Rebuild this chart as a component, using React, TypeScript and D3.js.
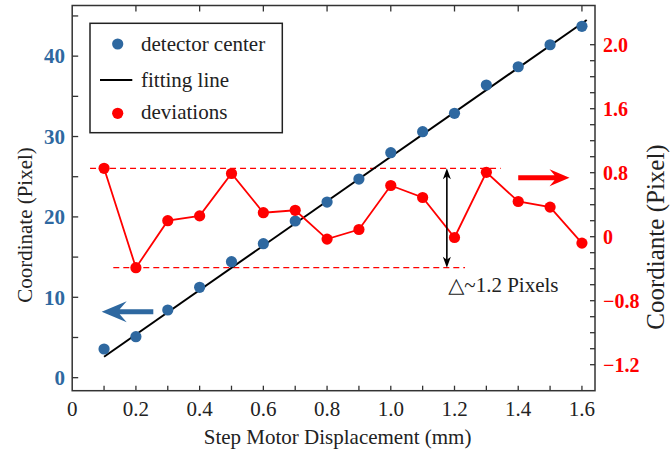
import React from "react";
import * as d3 from "d3";

// ---------- data ----------
const xValues = [0.1, 0.2, 0.3, 0.4, 0.5, 0.6, 0.7, 0.8, 0.9, 1.0, 1.1, 1.2, 1.3, 1.4, 1.5, 1.6];
const detectorCenter = [3.57, 5.1, 8.42, 11.24, 14.43, 16.67, 19.49, 21.85, 24.71, 27.99, 30.6, 32.89, 36.41, 38.68, 41.42, 43.71];
const deviations = [0.855, -0.3875, 0.2, 0.26, 0.79, 0.3, 0.33, -0.03, 0.09, 0.64, 0.49, -0.01, 0.805, 0.44, 0.37, -0.08];
const fitX = [0.1, 1.615];
const fitY = [2.61, 44.49];

const xTickValues = [0, 0.2, 0.4, 0.6, 0.8, 1.0, 1.2, 1.4, 1.6];
const xTickLabels = ["0", "0.2", "0.4", "0.6", "0.8", "1.0", "1.2", "1.4", "1.6"];
const leftTickValues = [0, 10, 20, 30, 40];
const rightTickValues = [2.4, 1.6, 0.8, 0, -0.8, -1.6];
const rightTickLabels = ["2.0", "1.6", "0.8", "0", "\u22120.8", "\u22121.2"];

const legendLabels = ["detector center", "fitting line", "deviations"];
const annotationText = "\u25B3~1.2 Pixels";

// ---------- style ----------
const W = 670;
const H = 453;
const BLUE = "#2e68a0";
const RED = "#ff0000";
const FRAME = "#333333";
const FONT = "Liberation Serif, DejaVu Serif, serif";

export default function App() {
  const x = d3.scaleLinear().domain([0, 1.641]).range([72.2, 595]);
  const yL = d3.scaleLinear().domain([-1.62, 46.3]).range([390.7, 5.5]);
  const yR = d3.scaleLinear().domain([-1.925, 2.89]).range([390.7, 5.5]);

  const [x0, x1] = x.range();
  const [yb, yt] = yL.range();

  const bottomTicks = d3.range(1, 17).map((i) => i / 10);
  const topTicks = d3.range(1, 9).map((i) => i / 5);
  const leftTicks = d3.range(0, 10).map((i) => i * 5);
  const rightTicks = d3.range(-8, 13).map((i) => i / 5);

  const devLine = d3
    .line<number>()
    .x((_, i) => x(xValues[i]))
    .y((d) => yR(d));

  const fitLine = d3
    .line<number>()
    .x((_, i) => x(fitX[i]))
    .y((d) => yL(d));

  const devMax = d3.max(deviations) as number;
  const devMin = d3.min(deviations) as number;

  const hArrow = (tipX: number, tailX: number, yy: number, headLen: number, halfH: number, notch: number, shaft: number) => {
    const dir = tailX > tipX ? 1 : -1;
    const p = d3.path();
    p.moveTo(tipX, yy);
    p.lineTo(tipX + dir * headLen, yy - halfH);
    p.lineTo(tipX + dir * notch, yy - shaft / 2);
    p.lineTo(tailX, yy - shaft / 2);
    p.lineTo(tailX, yy + shaft / 2);
    p.lineTo(tipX + dir * notch, yy + shaft / 2);
    p.lineTo(tipX + dir * headLen, yy + halfH);
    p.closePath();
    return p.toString();
  };

  const vHead = (xx: number, tipY: number, dir: number) => {
    const p = d3.path();
    p.moveTo(xx, tipY);
    p.lineTo(xx - 4, tipY + dir * 11);
    p.lineTo(xx, tipY + dir * 8);
    p.lineTo(xx + 4, tipY + dir * 11);
    p.closePath();
    return p.toString();
  };

  const arrowX = 1.176;
  const blueArrowY = yL(8.2);
  const redArrowY = yR(0.7375);

  const txt = { fontFamily: FONT };

  return (
    <svg
      width={W}
      height={H}
      style={{ position: "absolute", left: 0, top: 0, background: "#fff", fontFamily: FONT }}
    >
      <rect x={0} y={0} width={W} height={H} fill="#fff" />

      {/* dashed range lines */}
      <line x1={x(0.056)} x2={x(1.345)} y1={yR(devMax)} y2={yR(devMax)} stroke={RED} strokeWidth={1.2} strokeDasharray="6,4" />
      <line x1={x(0.129)} x2={x(1.233)} y1={yR(devMin)} y2={yR(devMin)} stroke={RED} strokeWidth={1.2} strokeDasharray="6,4" />

      {/* fit line */}
      <path d={fitLine(fitY) || ""} fill="none" stroke="#000" strokeWidth={2} />

      {/* blue points */}
      {detectorCenter.map((d, i) => (
        <circle key={"b" + i} cx={x(xValues[i])} cy={yL(d)} r={5.6} fill={BLUE} />
      ))}

      {/* deviations */}
      <path d={devLine(deviations) || ""} fill="none" stroke={RED} strokeWidth={1.8} />
      {deviations.map((d, i) => (
        <circle key={"r" + i} cx={x(xValues[i])} cy={yR(d)} r={5.6} fill={RED} />
      ))}

      {/* double arrow */}
      <line x1={x(arrowX)} x2={x(arrowX)} y1={yR(devMax) + 6} y2={yR(devMin) - 6} stroke="#000" strokeWidth={1.6} />
      <path d={vHead(x(arrowX), yR(devMax), 1)} fill="#000" />
      <path d={vHead(x(arrowX), yR(devMin), -1)} fill="#000" />
      <text x={x(1.18)} y={yR(-0.69)} fontSize={21} fill="#222" style={txt}>
        {annotationText}
      </text>

      {/* direction arrows */}
      <path d={hArrow(x(0.0926), x(0.2546), blueArrowY, 25, 10.5, 18, 5)} fill={BLUE} />
      <path d={hArrow(x(1.561), x(1.4), redArrowY, 20, 8.5, 15, 5)} fill={RED} />

      {/* frame */}
      <rect x={x0} y={yt} width={x1 - x0} height={yb - yt} fill="none" stroke={FRAME} strokeWidth={1.5} />

      {/* ticks */}
      {bottomTicks.map((t) => (
        <line key={"bt" + t} x1={x(t)} x2={x(t)} y1={yb} y2={yb - 5} stroke={FRAME} strokeWidth={1.3} />
      ))}
      {topTicks.map((t) => (
        <line key={"tt" + t} x1={x(t)} x2={x(t)} y1={yt} y2={yt + 6} stroke={FRAME} strokeWidth={1.3} />
      ))}
      {leftTicks.map((t) => (
        <line key={"lt" + t} x1={x0} x2={x0 + 6} y1={yL(t)} y2={yL(t)} stroke={FRAME} strokeWidth={1.3} />
      ))}
      {rightTicks.map((t) => (
        <line key={"rt" + t} x1={x1} x2={x1 - 5} y1={yR(t)} y2={yR(t)} stroke={FRAME} strokeWidth={1.3} />
      ))}

      {/* tick labels */}
      {xTickValues.map((t, i) => (
        <text key={"xl" + t} x={x(t)} y={416} textAnchor="middle" fontSize={21} fill="#222" style={txt}>
          {xTickLabels[i]}
        </text>
      ))}
      {leftTickValues.map((t) => (
        <text key={"ll" + t} x={65} y={yL(t)} dy="0.35em" textAnchor="end" fontSize={21} fontWeight="bold" fill={BLUE} style={txt}>
          {String(t)}
        </text>
      ))}
      {rightTickValues.map((t, i) => (
        <text key={"rl" + t} x={603} y={yR(t)} dy="0.35em" textAnchor="start" fontSize={20} fontWeight="bold" fill={RED} style={txt}>
          {rightTickLabels[i]}
        </text>
      ))}

      {/* axis titles */}
      <text x={(x0 + x1) / 2 + 4} y={444} textAnchor="middle" fontSize={21} fill="#222" style={txt}>
        Step Motor Displacement (mm)
      </text>
      <text transform={`translate(32,225) rotate(-90)`} textAnchor="middle" fontSize={21} fill="#222" style={txt}>
        Coordinate (Pixel)
      </text>
      <text transform={`translate(664,237) rotate(-90)`} textAnchor="middle" fontSize={25} fill="#222" style={txt}>
        Coordiante (Pixel)
      </text>

      {/* legend */}
      <rect x={90} y={23.3} width={192.3} height={109.4} fill="#fff" stroke="#222" strokeWidth={1.5} />
      <circle cx={117.7} cy={44} r={5.6} fill={BLUE} />
      <line x1={100} x2={132.3} y1={80} y2={80} stroke="#000" strokeWidth={2} />
      <circle cx={117.7} cy={113.3} r={5.6} fill={RED} />
      {legendLabels.map((l, i) => (
        <text key={l} x={141} y={[44, 80, 112][i]} dy="0.32em" fontSize={21} fill="#222" style={txt}>
          {l}
        </text>
      ))}
    </svg>
  );
}
